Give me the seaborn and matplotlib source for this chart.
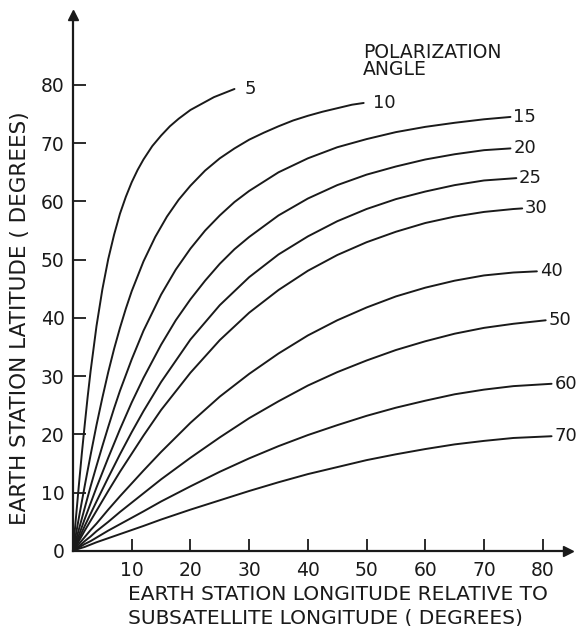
import matplotlib
matplotlib.use("Agg")
import matplotlib.pyplot as plt
import pandas as pd
import seaborn as sns

# ---- data (longitude relative to subsatellite, latitude) ----
ANGLES = [5, 10, 15, 20, 25, 30, 40, 50, 60, 70]

lon_5 = [0, 0.5, 1, 1.5, 2, 2.5, 3, 4, 5, 6, 7, 8, 9, 10, 11, 12, 13.5, 15, 16.5, 18,
         20, 22, 24, 26, 27.5]
lat_5 = [0, 5.7, 11.3, 16.7, 21.7, 26.5, 30.9, 38.6, 44.9, 50.1, 54.3, 57.9, 60.8, 63.3,
         65.4, 67.2, 69.5, 71.3, 72.9, 74.2, 75.7, 76.8, 77.9, 78.7, 79.3]

lon_10 = [0, 1, 2, 3, 4, 5, 6, 7, 8, 9, 10, 12, 14, 16, 18, 20, 22.5, 25, 27.5, 30, 32.5,
          35, 37.5, 40, 42.5, 45, 47.5, 49.5]
lat_10 = [0, 5.7, 11.2, 16.5, 21.6, 26.3, 30.7, 34.7, 38.3, 41.6, 44.6, 49.7, 53.9, 57.4,
          60.3, 62.7, 65.3, 67.4, 69.1, 70.6, 71.8, 72.9, 73.9, 74.7, 75.4, 76.0, 76.6, 76.9]

lon_15 = [0, 1, 2, 3, 4, 5, 6, 7, 8, 10, 12, 15, 17.5, 20, 22.5, 25, 27.5, 30, 35, 40, 45,
          50, 55, 60, 65, 70, 74.5]
lat_15 = [0, 3.7, 7.4, 11.1, 14.6, 18.0, 21.3, 24.5, 27.5, 32.9, 37.8, 44.0, 48.3, 51.9,
          55.0, 57.6, 59.9, 61.8, 65.0, 67.4, 69.3, 70.7, 71.9, 72.8, 73.5, 74.1, 74.5]

lon_20 = [0, 1, 2, 3, 4, 6, 8, 10, 12, 15, 17.5, 20, 22.5, 25, 27.5, 30, 35, 40, 45, 50,
          55, 60, 65, 70, 74.5]
lat_20 = [0, 2.7, 5.5, 8.2, 10.9, 16.0, 20.9, 25.5, 29.7, 35.4, 39.6, 43.2, 46.4, 49.3,
          51.8, 53.9, 57.6, 60.5, 62.8, 64.6, 66.0, 67.2, 68.1, 68.8, 69.1]

lon_25 = [0, 1, 2, 3, 4, 6, 8, 10, 12, 15, 20, 25, 30, 35, 40, 45, 50, 55, 60, 65, 70, 75.5]
lat_25 = [0, 2.1, 4.3, 6.4, 8.5, 12.6, 16.6, 20.4, 24.0, 29.0, 36.3, 42.2, 47.0, 50.9, 54.0,
          56.6, 58.7, 60.4, 61.7, 62.8, 63.6, 64.0]

lon_30 = [0, 1, 2, 3, 4, 6, 8, 10, 12, 15, 20, 25, 30, 35, 40, 45, 50, 55, 60, 65, 70, 75, 76.5]
lat_30 = [0, 1.7, 3.5, 5.2, 6.9, 10.3, 13.6, 16.7, 19.8, 24.2, 30.6, 36.2, 40.9, 44.8, 48.1,
          50.8, 53.0, 54.8, 56.3, 57.4, 58.2, 58.7, 58.8]

lon_40 = [0, 1, 2, 3, 4, 6, 8, 10, 12, 15, 20, 25, 30, 35, 40, 45, 50, 55, 60, 65, 70, 75, 79]
lat_40 = [0, 1.2, 2.4, 3.6, 4.7, 7.1, 9.4, 11.6, 13.8, 17.0, 22.0, 26.5, 30.4, 33.9, 37.0,
          39.6, 41.8, 43.7, 45.2, 46.4, 47.3, 47.8, 48.0]

lon_50 = [0, 1, 2, 3, 4, 6, 8, 10, 12, 15, 20, 25, 30, 35, 40, 45, 50, 55, 60, 65, 70, 75, 80.5]
lat_50 = [0, 0.8, 1.7, 2.5, 3.4, 5.0, 6.7, 8.3, 9.9, 12.3, 16.0, 19.5, 22.8, 25.7, 28.4,
          30.7, 32.7, 34.5, 36.0, 37.3, 38.3, 39.0, 39.6]

lon_60 = [0, 1, 2, 3, 4, 6, 8, 10, 12, 15, 20, 25, 30, 35, 40, 45, 50, 55, 60, 65, 70, 75, 81.5]
lat_60 = [0, 0.6, 1.2, 1.7, 2.3, 3.5, 4.6, 5.7, 6.8, 8.5, 11.1, 13.6, 15.9, 18.0, 19.9,
          21.6, 23.2, 24.6, 25.8, 26.9, 27.7, 28.3, 28.7]

lon_70 = [0, 1, 2, 3, 4, 6, 8, 10, 12, 15, 20, 25, 30, 35, 40, 45, 50, 55, 60, 65, 70, 75, 81.5]
lat_70 = [0, 0.4, 0.7, 1.1, 1.5, 2.2, 2.9, 3.6, 4.3, 5.4, 7.1, 8.7, 10.3, 11.8, 13.2,
          14.4, 15.6, 16.6, 17.5, 18.3, 18.9, 19.4, 19.7]

LONS = [lon_5, lon_10, lon_15, lon_20, lon_25, lon_30, lon_40, lon_50, lon_60, lon_70]
LATS = [lat_5, lat_10, lat_15, lat_20, lat_25, lat_30, lat_40, lat_50, lat_60, lat_70]

X_TICKS = [10, 20, 30, 40, 50, 60, 70, 80]
Y_TICKS = [0, 10, 20, 30, 40, 50, 60, 70, 80]

rows = []
for ang, lons, lats in zip(ANGLES, LONS, LATS):
    for lo, la in zip(lons, lats):
        rows.append({"angle": ang, "lon": lo, "lat": la})
df = pd.DataFrame(rows)

sns.set_theme(style="white")
plt.rcParams["font.family"] = ["DejaVu Sans"]

INK = "#1a1a1a"
W, H = 586, 626
fig = plt.figure(figsize=(W / 100, H / 100), dpi=100)
ax = fig.add_axes([73 / W, 75 / H, 495 / W, 536 / H])

sns.lineplot(data=df, x="lon", y="lat", units="angle", estimator=None, sort=False,
             color=INK, linewidth=1.4, legend=False, ax=ax)

ax.set_xlim(0, 84.3)
ax.set_ylim(0, 92)
ax.set_xticks(X_TICKS)
ax.set_yticks(Y_TICKS)
ax.set_xticklabels([str(t) for t in X_TICKS])
ax.set_yticklabels([str(t) for t in Y_TICKS])
ax.set_xlabel("")
ax.set_ylabel("")

for s in ["top", "right"]:
    ax.spines[s].set_visible(False)
for s in ["left", "bottom"]:
    ax.spines[s].set_color(INK)
    ax.spines[s].set_linewidth(1.6)

ax.tick_params(axis="both", direction="in", length=9, width=1.3, colors=INK,
               labelsize=13.5, left=True, bottom=True)
ax.tick_params(axis="x", pad=7)
ax.tick_params(axis="y", pad=6)

# arrow heads
ax.plot(1, 0, marker=">", color=INK, markersize=7, transform=ax.transAxes, clip_on=False)
ax.plot(0, 1, marker="^", color=INK, markersize=7, transform=ax.transAxes, clip_on=False)

# curve labels
label_offsets = {5: 7, 10: 7}
for ang, lons, lats in zip(ANGLES, LONS, LATS):
    ax.annotate(str(ang), xy=(lons[-1], lats[-1]), xytext=(label_offsets.get(ang, 2), 0),
                textcoords="offset points", ha="left", va="center",
                fontsize=13, color=INK)

fig.text(363 / W, 1 - 43 / H, "POLARIZATION\nANGLE", ha="left", va="top",
         fontsize=13.5, color=INK, linespacing=0.85)

fig.text(128 / W, 1 - 595 / H, "EARTH STATION LONGITUDE RELATIVE TO", ha="left",
         va="center", fontsize=14.5, color=INK)
fig.text(128 / W, 1 - 618 / H, "SUBSATELLITE LONGITUDE ( DEGREES)", ha="left",
         va="center", fontsize=14.5, color=INK)
fig.text(20 / W, 1 - 318 / H, "EARTH STATION LATITUDE ( DEGREES)", ha="center",
         va="center", rotation=90, fontsize=15.5, color=INK)

fig.savefig("out.png", dpi=100, facecolor="white")
